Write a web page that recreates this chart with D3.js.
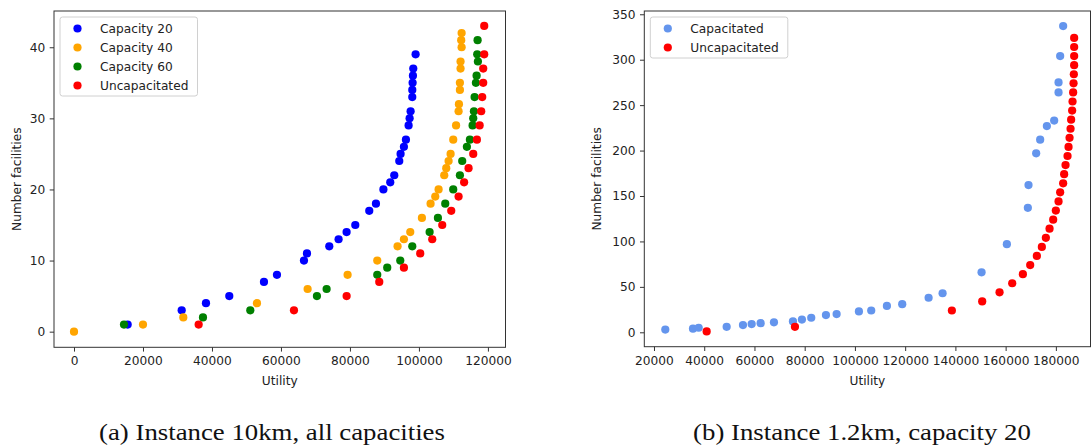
<!DOCTYPE html>
<html>
<head>
<meta charset="utf-8">
<script src="https://cdn.jsdelivr.net/npm/d3@7"></script>
<style>
  html, body { margin: 0; padding: 0; background: #fff; }
  svg { display: block; }
  .tick text { font-family: "DejaVu Sans", sans-serif; font-size: 12.2px; fill: #222; }
  .lbl { font-family: "DejaVu Sans", sans-serif; font-size: 12.2px; fill: #222; }
  .cap { font-family: "Liberation Serif", serif; font-size: 22.5px; fill: #111; }
</style>
</head>
<body>
<svg id="fig" width="1091" height="448"></svg>
<script>
// ---- Panel (a): instance 10km, utility vs number of facilities per capacity ----
const cap20 = [
  [15560,1],[31220,3],[38260,4],[45020,5],[55070,7],[58840,8],[66670,10],[67540,11],
  [74010,12],[76710,13],[79030,14],[81550,15],[85600,17],[87540,18],[89700,20],[91690,21],
  [92850,22],[94300,24],[94680,25],[95650,26],[96230,27],[97010,29],[97300,30],[97590,31],
  [98070,33],[98070,34],[98170,35],[98260,36],[98360,37],[99040,39]
];
const cap40 = [
  [0,0],[20000,1],[31690,2],[53040,4],[67730,6],[79320,8],[87920,10],[93810,12],[95650,13],
  [97490,14],[100870,16],[103380,18],[104740,19],[105700,20],[107340,22],[107920,23],
  [108600,24],[109180,25],[109950,27],[110770,29],[111500,31],[111600,32],[111880,34],
  [111880,35],[112070,37],[112070,38],[112380,40],[112260,41],[112380,42]
];
const cap60 = [
  [14490,1],[37390,2],[51110,3],[70430,5],[73240,6],[87920,8],[90810,9],[94590,10],
  [98070,12],[103100,14],[105510,16],[107630,18],[109950,20],[111880,22],[112550,24],
  [113910,26],[114780,27],[115560,29],[115750,30],[115950,31],[116140,33],[116520,35],
  [116720,36],[117100,38],[116900,39],[117010,41]
];
const uncapA = [
  [36140,1],[63770,3],[79040,5],[88500,7],[95650,9],[100380,11],[103860,13],[106760,15],
  [109370,17],[111500,19],[113100,21],[114390,23],[115750,25],[116810,27],[117600,29],
  [118060,31],[118350,33],[118640,35],[118640,37],[118930,39],[118930,43]
];
const seriesNamesA = ["Capacity 20", "Capacity 40", "Capacity 60", "Uncapacitated"];
const xTicksA = [0, 20000, 40000, 60000, 80000, 100000, 120000];
const yTicksA = [0, 10, 20, 30, 40];

// ---- Panel (b): instance 1.2km, capacity 20 ----
const capacitated = [
  [24500,3],[35520,4],[37790,5],[48930,6],[55420,8],[58880,9],[62460,10],[67760,11],
  [75320,12],[78900,14],[82610,16],[88460,19],[92710,20],[101590,23],[106490,24],
  [112730,29],[118830,31],[129330,38],[134900,43],[150420,66],[160490,97],[168850,137],
  [169110,162],[172160,197],[173750,212],[176420,227],[179330,233],[181070,264],
  [181070,275],[181710,304],[182900,337]
];
const uncapB = [
  [40970,1],[76120,6],[138600,24],[150670,34],[157580,44],[162620,54],[166870,64],
  [169780,74],[172430,84],[174420,94],[176020,104],[177480,114],[178930,124],[179990,134],
  [181070,144],[181710,154],[182900,164],[183300,174],[183850,184],[184650,194],
  [185050,204],[185450,214],[185850,224],[186080,234],[186480,244],[186640,254],
  [186880,264],[187040,274],[187160,284],[187280,294],[187280,304],[187280,314],[187280,324]
];
const seriesNamesB = ["Capacitated", "Uncapacitated"];
const xTicksB = [20000, 40000, 60000, 80000, 100000, 120000, 140000, 160000, 180000];
const yTicksB = [0, 50, 100, 150, 200, 250, 300, 350];

const svg = d3.select("#fig");

function panel(cfg) {
  const g = svg.append("g");
  const x = d3.scaleLinear().domain(cfg.xDomain).range([cfg.left, cfg.right]);
  const y = d3.scaleLinear().domain(cfg.yDomain).range([cfg.bottom, cfg.top]);

  const xAxis = d3.axisBottom(x).tickValues(cfg.xTicks).tickFormat(d3.format("d"))
    .tickSize(4.3).tickPadding(5.2);
  const yAxis = d3.axisLeft(y).tickValues(cfg.yTicks).tickFormat(d3.format("d"))
    .tickSize(4.3).tickPadding(4.5);

  const gx = g.append("g").attr("transform", `translate(0,${cfg.bottom})`).call(xAxis);
  const gy = g.append("g").attr("transform", `translate(${cfg.left},0)`).call(yAxis);
  [gx, gy].forEach(a => {
    a.select(".domain").remove();
    a.selectAll(".tick line").attr("stroke", "#333");
  });

  // axes frame
  g.append("rect")
    .attr("x", cfg.left).attr("y", cfg.top)
    .attr("width", cfg.right - cfg.left).attr("height", cfg.bottom - cfg.top)
    .attr("fill", "none").attr("stroke", "#333").attr("stroke-width", 1);

  // scatter series, later ones drawn on top
  cfg.series.forEach(s => {
    g.append("g").selectAll("circle").data(s.data).join("circle")
      .attr("cx", d => x(d[0])).attr("cy", d => y(d[1]))
      .attr("r", 4.1).attr("fill", s.color);
  });

  // axis titles
  g.append("text").attr("class", "lbl")
    .attr("x", (cfg.left + cfg.right) / 2).attr("y", cfg.bottom + 38)
    .attr("text-anchor", "middle").text("Utility");
  g.append("text").attr("class", "lbl")
    .attr("transform", `translate(${cfg.yLabelX},${(cfg.top + cfg.bottom) / 2}) rotate(-90)`)
    .attr("text-anchor", "middle").text("Number facilities");

  // legend
  const lg = g.append("g").attr("transform", `translate(${cfg.left + 6},${cfg.top + 6})`);
  const rowH = 19;
  lg.append("rect")
    .attr("x", 0).attr("y", 0)
    .attr("width", cfg.legendW).attr("height", cfg.series.length * rowH + 3)
    .attr("rx", 2.5).attr("fill", "#fff").attr("fill-opacity", 0.85)
    .attr("stroke", "#d0d0d0").attr("stroke-width", 1);
  cfg.series.forEach((s, i) => {
    lg.append("circle").attr("cx", 17.5).attr("cy", 11.5 + i * rowH)
      .attr("r", 4.1).attr("fill", s.color);
    lg.append("text").attr("class", "lbl")
      .attr("x", 40).attr("y", 16 + i * rowH).text(s.name);
  });

  // caption under the panel, widened horizontally to the wide serif look
  const cap = svg.append("g")
    .attr("transform", `translate(${cfg.captionX},440)`)
    .append("text").attr("class", "cap")
    .attr("text-anchor", "middle")
    .text(cfg.caption);
  const natural = cap.node().getComputedTextLength();
  cap.attr("transform", `scale(${cfg.captionW / natural},1)`);
}

panel({
  left: 54, right: 505.5, top: 11, bottom: 347.3,
  xDomain: [-5800, 125100], yDomain: [-2.2, 45.1],
  xTicks: xTicksA, yTicks: yTicksA, yLabelX: 20.5, legendW: 137.5,
  series: [
    { name: seriesNamesA[0], color: "#0000ff", data: cap20 },
    { name: seriesNamesA[1], color: "#ffa500", data: cap40 },
    { name: seriesNamesA[2], color: "#008000", data: cap60 },
    { name: seriesNamesA[3], color: "#ff0000", data: uncapA }
  ],
  caption: "(a) Instance 10km, all capacities", captionX: 272, captionW: 346
});

panel({
  left: 644.3, right: 1090.5, top: 11, bottom: 346.7,
  xDomain: [16140, 193790], yDomain: [-15.85, 353.6],
  xTicks: xTicksB, yTicks: yTicksB, yLabelX: 601, legendW: 137.5,
  series: [
    { name: seriesNamesB[0], color: "#6495ed", data: capacitated },
    { name: seriesNamesB[1], color: "#ff0000", data: uncapB }
  ],
  caption: "(b) Instance 1.2km, capacity 20", captionX: 862, captionW: 338
});
</script>
</body>
</html>
